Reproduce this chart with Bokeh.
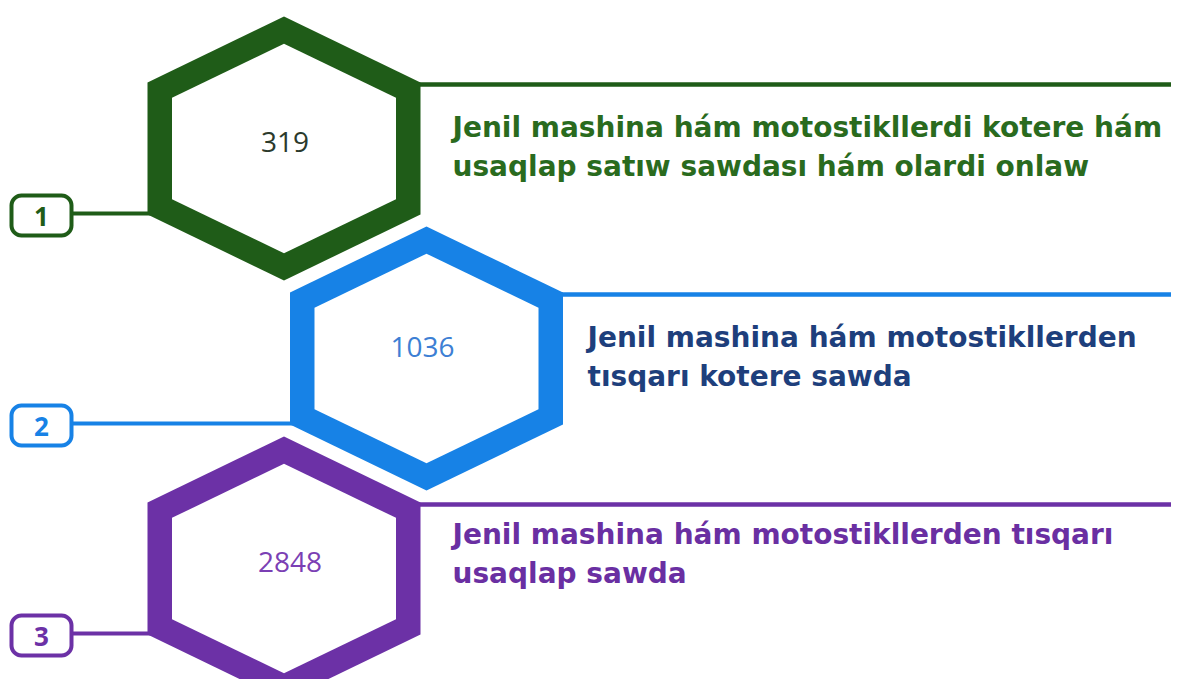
import math
from bokeh.plotting import figure
from bokeh.models import ColumnDataSource, Range1d
from bokeh.core.properties import value
from bokeh.embed import file_html
from bokeh.resources import INLINE

# ---- data ----
ranks = ["1", "2", "3"]
counts = [319, 1036, 2848]
desc_line1 = [
    "Jenil mashina hám motostikllerdi kotere hám",
    "Jenil mashina hám motostikllerden",
    "Jenil mashina hám motostikllerden tısqarı",
]
desc_line2 = [
    "usaqlap satıw sawdası hám olardi onlaw",
    "tısqarı kotere sawda",
    "usaqlap sawda",
]
colors = ["#1f5c18", "#1782e6", "#6c31a6"]
text_colors = ["#2a6b1e", "#1e3f7c", "#6a2fa2"]
num_colors = ["#2b3a2c", "#3d7fd4", "#7b3fb4"]

# ---- layout (pixel space) ----
W, H = 1171, 679
p = figure(width=W, height=H, x_range=Range1d(0, W), y_range=Range1d(H, 0),
           output_backend="svg", toolbar_location=None, min_border=0)
p.axis.visible = False
p.grid.visible = False
p.outline_line_color = None
p.background_fill_color = "white"

cx = [283.5 if i % 2 == 0 else 426.0 for i in range(len(ranks))]
cy = [148.0 + 210.0 * i for i in range(len(ranks))]
HW, HH, SH = 136.5, 132.0, 66.0  # half-width, half-height, shoulder offset
STROKE = 24.5


def hexagon(x, y):
    return [(x, y - HH), (x + HW, y - SH), (x + HW, y + SH), (x, y + HH), (x - HW, y + SH), (x - HW, y - SH)]


def inset(pts, d):
    n = len(pts)
    gx = sum(q[0] for q in pts) / n
    gy = sum(q[1] for q in pts) / n
    lines = []
    for i in range(n):
        a, b = pts[i], pts[(i + 1) % n]
        ex, ey = b[0] - a[0], b[1] - a[1]
        L = math.hypot(ex, ey)
        nx, ny = -ey / L, ex / L
        mx, my = (a[0] + b[0]) / 2, (a[1] + b[1]) / 2
        if (gx - mx) * nx + (gy - my) * ny < 0:
            nx, ny = -nx, -ny
        lines.append(((a[0] + nx * d, a[1] + ny * d), (ex, ey)))
    out = []
    for i in range(n):
        (p1, d1), (p2, d2) = lines[i - 1], lines[i]
        den = d1[0] * d2[1] - d1[1] * d2[0]
        t = ((p2[0] - p1[0]) * d2[1] - (p2[1] - p1[1]) * d2[0]) / den
        out.append((p1[0] + t * d1[0], p1[1] + t * d1[1]))
    return out


def rounded_rect(x, y, w, h, r, seg=8):
    pts = []
    corners = [(x + w / 2 - r, y - h / 2 + r, -90), (x + w / 2 - r, y + h / 2 - r, 0),
               (x - w / 2 + r, y + h / 2 - r, 90), (x - w / 2 + r, y - h / 2 + r, 180)]
    for (ccx, ccy, a0) in corners:
        for k in range(seg + 1):
            a = math.radians(a0 + 90 * k / seg)
            pts.append((ccx + r * math.cos(a), ccy + r * math.sin(a)))
    return pts


# connector lines
right_src = ColumnDataSource(dict(
    x0=[cx[i] + HW - 2 for i in range(len(ranks))],
    x1=[2000 for _ in ranks],
    y=[cy[i] - SH + 2 for i in range(len(ranks))],
    color=colors))
p.segment(x0="x0", y0="y", x1="x1", y1="y", source=right_src, line_color="color", line_width=4.5)

left_src = ColumnDataSource(dict(
    x0=[70 for _ in ranks],
    x1=[cx[i] - HW + 4 for i in range(len(ranks))],
    y=[cy[i] + SH - 1 for i in range(len(ranks))],
    color=colors))
p.segment(x0="x0", y0="y", x1="x1", y1="y", source=left_src, line_color="color", line_width=4)

# hexagons
for i in range(len(ranks)):
    outer = hexagon(cx[i], cy[i])
    inner = inset(outer, STROKE)
    p.patch([q[0] for q in outer], [q[1] for q in outer], fill_color=colors[i], line_color=None)
    p.patch([q[0] for q in inner], [q[1] for q in inner], fill_color="white", line_color=None)

# badges
bx, by = [], []
for i in range(len(ranks)):
    rr = rounded_rect(41.0, cy[i] + SH + 1, 60, 40, 10)
    bx.append([q[0] for q in rr])
    by.append([q[1] for q in rr])
badge_src = ColumnDataSource(dict(xs=bx, ys=by, color=colors))
p.patches(xs="xs", ys="ys", source=badge_src, fill_color="white", line_color="color", line_width=4)

p.text(x=[41.0] * len(ranks), y=[cy[i] + SH + 2 for i in range(len(ranks))], text=ranks,
       text_color=colors, text_font=value("Open Sans"), text_font_size="26px",
       text_font_style="bold", text_align="center", text_baseline="middle")

# numbers inside hexagons
num_x = [cx[0] + 1, cx[1] - 4, cx[2] + 6]
num_y = [cy[0] - 7, cy[1] - 12, cy[2] - 7]
p.text(x=num_x, y=num_y, text=[str(c) for c in counts], text_color=num_colors,
       text_font=value("Open Sans"), text_font_size="28px", text_align="center", text_baseline="middle")

# descriptions
tx = [452, 587, 452]
t1y = [cy[0] - 21, cy[1] - 21, cy[2] - 34]
t2y = [t1y[i] + 39 for i in range(len(ranks))]
p.text(x=tx, y=t1y, text=desc_line1, text_color=text_colors, text_font=value("DejaVu Sans"),
       text_font_style="bold", text_font_size="28px", text_align="left", text_baseline="alphabetic")
p.text(x=tx, y=t2y, text=desc_line2, text_color=text_colors, text_font=value("DejaVu Sans"),
       text_font_style="bold", text_font_size="28px", text_align="left", text_baseline="alphabetic")

open("out.html", "w").write(file_html(p, INLINE))
